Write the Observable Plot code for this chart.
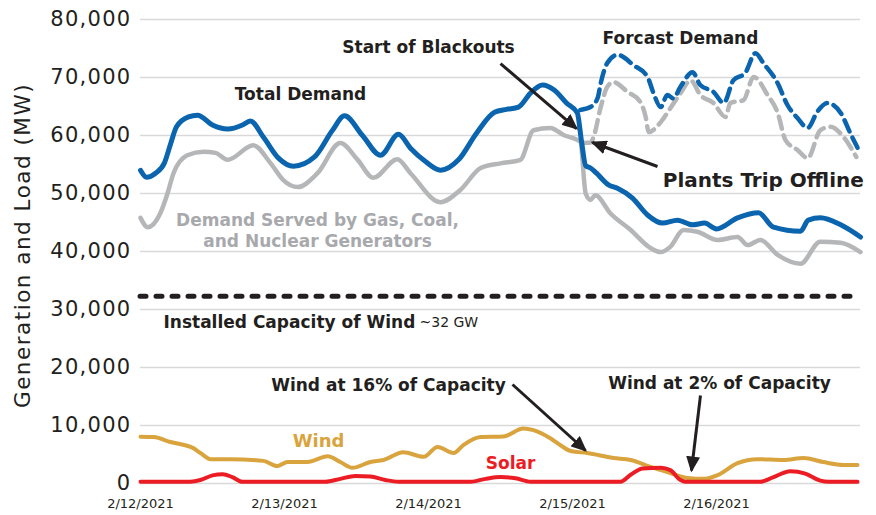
<!DOCTYPE html>
<html><head><meta charset="utf-8">
<script src="https://cdn.jsdelivr.net/npm/d3@7"></script>
<script src="https://cdn.jsdelivr.net/npm/@observablehq/plot@0.6"></script>
<style>body{margin:0;background:#fff}</style>
</head><body><div id="chart"></div>
<script>
const start = Date.UTC(2021, 1, 12);
const T = h => new Date(start + h * 3600e3);

// axis ticks
const dayTicks = [0, 1, 2, 3, 4];
const dayLabels = ["2/12/2021", "2/13/2021", "2/14/2021", "2/15/2021", "2/16/2021"];
const yTicks = [0, 10000, 20000, 30000, 40000, 50000, 60000, 70000, 80000];

// Total demand (hours since 2/12/2021 00:00, MW)
const totalHours = [0,1,2.5,4,5,6,8,9.5,12,14.5,17,18.3,20.5,23,25.5,29,32,34,37,40,43,45,47.5,50,53,56,59,61,63,65,67,69,71,72.8,73.5,74.2,75,76,78,79.5,82,84.5,87,89.5,92,94,96,99.5,103,105.5,110,111.3,113.3,116.7,120];
const totalValues = [54000,52800,53500,55300,58500,61500,63200,63500,61800,61100,61800,62500,59700,56100,54700,56300,60900,63400,60000,56600,60200,57800,55500,54000,55800,60400,64000,64500,64900,67300,68700,67800,65600,63900,59000,54800,54400,53500,51500,50900,49200,46300,44900,45400,44600,44900,43900,45800,46700,44200,43500,45400,45800,44600,42500];

// Demand served by gas, coal and nuclear
const servedHours = [0,1.2,3.3,4.5,5.5,7.8,10.5,12.5,14.5,18.8,21.7,23.8,26.2,29.5,33.3,36.2,38.8,42.8,45,50,53.3,56.7,60,63.3,65.5,68.3,70.5,73.3,74.2,75,75.8,78.3,81.7,85,86.7,88.3,90.5,92.8,96.2,99.5,101.2,103.3,106.2,110,113.3,116.7,120];
const servedValues = [45800,44200,46600,50000,53500,56600,57200,57000,55800,58300,55200,52300,51100,53500,58700,55800,52700,55900,53500,48500,50600,54400,55200,55800,60900,61300,60100,58900,50000,48900,49700,46600,43700,40600,39900,40800,43700,43400,42000,42500,41100,42000,39400,37900,41700,41500,39900];

// Forecast demand (total)
const fcTotalHours = [73.3,75,76.2,76.7,77.8,79.5,82.2,84.5,85.5,86.7,87.8,88.8,90,92,93.3,95.5,97.2,98.8,100.8,102.5,103.8,106.2,107.8,109.5,111.2,112.8,114.5,116.7,118.3,119.5];
const fcTotalValues = [64400,64900,66500,69000,72500,73900,72100,70100,67300,64900,67000,66400,68400,70900,68700,67500,65600,69500,70800,74200,72500,69000,65300,63000,61300,64100,65600,63900,60400,57900];

// Forecast demand served
const fcServedHours = [73.8,75,75.5,76.7,77.8,78.8,81.2,83.3,84.2,84.7,86.7,88.3,90,91.7,93.3,95.5,97.5,98.3,100.5,102.2,104.5,106.2,107.5,109.5,111.2,113.3,115,117.2,119.3];
const fcServedValues = [58700,58800,59700,64900,68400,69200,67500,65800,63200,60600,62300,64700,67300,69500,67000,65600,63200,65600,66100,70100,67000,63900,59200,57500,56100,60900,61500,59700,56300];

// Wind generation
const windHours = [0,2.2,5,8.8,10,11.7,15,20.5,22.8,24.5,27.8,31.2,33.3,35.3,38.3,40.5,43.8,47.2,49.5,52.2,53.8,56.7,60.5,63.8,65.5,68.3,70,71.7,74.5,78.8,81.7,85,88.3,91.2,93.8,96.2,99.5,102.8,107.2,110.5,113.8,117.2,119.5];
const windValues = [8070,8000,7150,6100,5250,4200,4200,3900,3000,3700,3700,4700,3700,2700,3700,4050,5400,4600,6300,5250,6600,8000,8100,9500,9200,7800,6600,5600,5250,4400,4050,2850,1800,950,800,1450,3500,4200,4050,4400,3700,3200,3200];

// Solar generation
const solarHours = [0,8.3,10,12,13.7,15.3,17,30.8,33.3,35.8,38.3,40.8,43,55,57.5,60,62.5,65,80,81.7,83.7,86.7,88.3,90,90.8,103.3,105.3,108.3,110.8,113.3,114.7,119.5];
const solarValues = [300,300,600,1400,1600,1100,300,300,800,1300,1200,600,300,300,800,1100,900,300,300,1500,2600,2700,2300,600,300,300,1000,2100,1700,500,300,300];

// Installed wind capacity (MW)
const windCapacity = [32300];

// Annotations
const boldLabels = [
  {h: 26.67, v: 67060, text: "Total Demand"},
  {h: 48, v: 75170, text: "Start of Blackouts"},
  {h: 90, v: 76720, text: "Forcast Demand"},
  {h: 41.33, v: 16900, text: "Wind at 16% of Capacity"},
  {h: 96.5, v: 17240, text: "Wind at 2% of Capacity"}
];
const bigLabels = [{h: 103.8, v: 52240, text: "Plants Trip Offline"}];
const grayLabels = [{h: 29.5, v: 43700, text: "Demand Served by Gas, Coal,\nand Nuclear Generators"}];
const capLabels = [{h: 3.83, v: 27760, text: "Installed Capacity of Wind"}];
const capNote = [{h: 46.5, v: 27760, text: "~32 GW"}];
const windLabel = [{h: 29.67, v: 7240, text: "Wind"}];
const solarLabel = [{h: 61.67, v: 3450, text: "Solar"}];
const arrows = [
  {h1: 60, v1: 72400, h2: 72.67, v2: 61200},
  {h1: 86.17, v1: 54650, h2: 75.33, v2: 58790},
  {h1: 62, v1: 17070, h2: 74.17, v2: 5690},
  {h1: 93.33, v1: 15170, h2: 91.83, v2: 2240}
];

const series = (hs, vs) => hs.map((h, i) => ({t: T(h), v: vs[i]}));

const BLUE = "#0b64ae", GRAY = "#b5b6b8", GOLD = "#d9a43e", RED = "#ec1c24", INK = "#231f20";
const curve = "monotone-x";
const F = "DejaVu Sans";

const plot = Plot.plot({
  width: 876, height: 515,
  marginLeft: 140, marginRight: 16, marginTop: 19, marginBottom: 32,
  style: {fontFamily: F, background: "#fff"},
  x: {type: "utc", domain: [T(0), T(120)]},
  y: {domain: [0, 80000]},
  marks: [
    Plot.gridY(yTicks, {stroke: "#d9d9d9", strokeOpacity: 1, strokeWidth: 1.5}),
    Plot.axisY(yTicks, {tickSize: 0, tickPadding: 9, fontSize: 21, fill: INK, tickFormat: d3.format(","), label: null}),
    Plot.axisX(dayTicks.map(d => T(d * 24)), {tickSize: 0, tickPadding: 15, fontSize: 13, fill: INK,
      tickFormat: d => dayLabels[Math.round((d - start) / 86400e3)], label: null}),
    Plot.text(["Generation and Load (MW)"], {frameAnchor: "left", textAnchor: "middle", rotate: -90, dx: -117, dy: -6, fontSize: 21.5, fill: INK}),
    Plot.ruleY(windCapacity, {stroke: INK, strokeWidth: 5, strokeDasharray: "6,10", strokeLinecap: "round"}),
    Plot.line(series(fcServedHours, fcServedValues), {x: "t", y: "v", stroke: GRAY, strokeWidth: 4.5, strokeDasharray: "12,7", curve}),
    Plot.line(series(fcTotalHours, fcTotalValues), {x: "t", y: "v", stroke: BLUE, strokeWidth: 4.5, strokeDasharray: "12,7", curve}),
    Plot.line(series(servedHours, servedValues), {x: "t", y: "v", stroke: GRAY, strokeWidth: 4.5, curve}),
    Plot.line(series(totalHours, totalValues), {x: "t", y: "v", stroke: BLUE, strokeWidth: 5, curve}),
    Plot.line(series(windHours, windValues), {x: "t", y: "v", stroke: GOLD, strokeWidth: 4, curve}),
    Plot.line(series(solarHours, solarValues), {x: "t", y: "v", stroke: RED, strokeWidth: 4, curve}),
    Plot.text(boldLabels, {x: d => T(d.h), y: "v", text: "text", fontSize: 17, fontWeight: "bold", fill: INK}),
    Plot.text(bigLabels, {x: d => T(d.h), y: "v", text: "text", fontSize: 20, fontWeight: "bold", fill: INK}),
    Plot.text(grayLabels, {x: d => T(d.h), y: "v", text: "text", fontSize: 17, fontWeight: "bold", fill: "#a7a9ac", lineHeight: 1.25}),
    Plot.text(capLabels, {x: d => T(d.h), y: "v", text: "text", fontSize: 17, fontWeight: "bold", fill: INK, textAnchor: "start"}),
    Plot.text(capNote, {x: d => T(d.h), y: "v", text: "text", fontSize: 14, fill: INK, textAnchor: "start"}),
    Plot.text(windLabel, {x: d => T(d.h), y: "v", text: "text", fontSize: 18, fontWeight: "bold", fill: GOLD}),
    Plot.text(solarLabel, {x: d => T(d.h), y: "v", text: "text", fontSize: 17, fontWeight: "bold", fill: RED}),
    Plot.link(arrows, {x1: d => T(d.h1), y1: "v1", x2: d => T(d.h2), y2: "v2", stroke: INK, strokeWidth: 3})
  ]
});

// filled arrowheads
const svg = d3.select(plot);
svg.append("defs").append("marker")
  .attr("id", "ah").attr("viewBox", "0 0 16 14").attr("refX", 14).attr("refY", 7)
  .attr("markerWidth", 16).attr("markerHeight", 14).attr("markerUnits", "userSpaceOnUse").attr("orient", "auto")
  .append("path").attr("d", "M0,0L16,7L0,14Z").attr("fill", INK);
svg.selectAll('g[aria-label="link"] path').attr("marker-end", "url(#ah)");
svg.selectAll('g[aria-label="y-axis tick label"] text').attr("letter-spacing", "1.3px");
svg.selectAll('g[aria-label="text"] text').filter(function () { return this.textContent === "Generation and Load (MW)"; })
  .attr("letter-spacing", "1.5px");

document.getElementById("chart").appendChild(plot);
</script>
</body></html>
